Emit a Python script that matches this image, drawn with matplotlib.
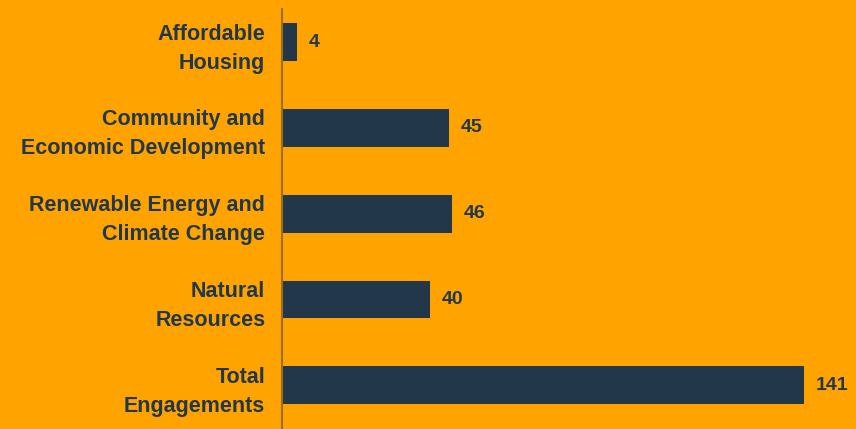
import numpy as np
import matplotlib.pyplot as plt

# data
categories = ['Affordable\nHousing', 'Community and\nEconomic Development',
              'Renewable Energy and\nClimate Change', 'Natural\nResources',
              'Total\nEngagements']
values = [4, 45, 46, 40, 141]

bg = '#FFA300'
navy = '#22374A'

plt.rcParams['font.family'] = ['Liberation Sans', 'DejaVu Sans']

fig = plt.figure(figsize=(8.56, 4.29), dpi=100)
fig.patch.set_facecolor(bg)
ax = fig.add_axes([282 / 856, 0, 1 - 282 / 856, 1 - 9 / 429])
ax.set_facecolor(bg)

y = np.arange(len(values))
ax.barh(y, values, height=0.44, color=navy)

for yi, v in zip(y, values):
    ax.text(v + 3.2, yi, str(v), va='center', ha='left',
            fontsize=14, fontweight='bold', color=navy)

ax.set_yticks(y)
ax.set_yticklabels(categories, fontsize=15.5, fontweight='bold', color=navy,
                   linespacing=1.5)
ax.tick_params(axis='y', length=0, pad=12)
ax.set_xticks([])
ax.set_xlim(0, 155)
ax.set_ylim(4.51, -0.385)

for s in ['top', 'right', 'bottom']:
    ax.spines[s].set_visible(False)
ax.spines['left'].set_color('#9C6E24')
ax.spines['left'].set_linewidth(1.5)

plt.savefig('out.png', dpi=100, facecolor=bg)
